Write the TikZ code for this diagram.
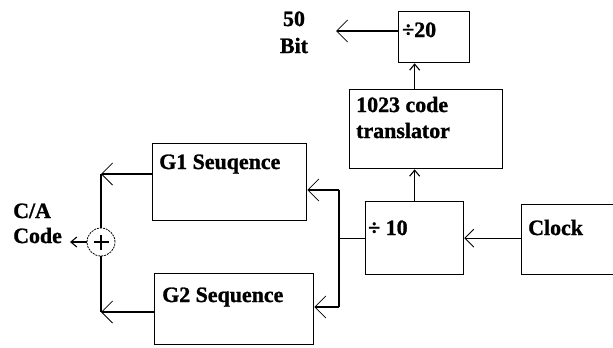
\documentclass[tikz,border=0pt]{standalone}
\usepackage{fontspec}
\setmainfont{Liberation Serif}[BoldFont={Liberation Serif Bold}, BoldFeatures={FakeBold=1.2}]
\usetikzlibrary{arrows.meta}
\begin{document}
\begin{tikzpicture}[x=1bp,y=-1bp,
  box/.style={draw, line width=1.3bp, rectangle, inner sep=0pt, anchor=north west},
  lbl/.style={inner sep=0pt, anchor=base west, font=\fontsize{22}{26}\selectfont\bfseries},
  clbl/.style={lbl, anchor=base},
  conn/.style={line width=1.1bp},
  bigtip/.style={conn, -{Straight Barb[length=11bp,width=22bp,line width=0.8bp]}},
  midtip/.style={conn, -{Straight Barb[length=9bp,width=18bp,line width=0.8bp]}},
  smalltip/.style={conn, -{Straight Barb[length=6bp,width=10bp,line width=1.1bp]}},
]
\useasboundingbox (0,0) rectangle (613,347);
% boxes
\node[box, minimum width=154bp, minimum height=77bp] (g1) at (152,143) {};
\node[box, minimum width=159bp, minimum height=71bp] (g2) at (154,273) {};
\node[box, minimum width=98bp, minimum height=73bp] (div10) at (365,201) {};
\node[box, minimum width=92bp, minimum height=70bp] (clock) at (521,204) {};
\node[box, minimum width=153bp, minimum height=79bp] (trans) at (349,89) {};
\node[box, minimum width=71bp, minimum height=51bp] (div20) at (398,11) {};
\node[circle, draw, line width=0.8bp, dash pattern=on 2bp off 1bp, minimum size=28bp, inner sep=0pt] (sum) at (101,242) {};
% texts
\node[lbl] (tg1) at (159,169) {G1 Seuqence};
\node[lbl] (tg2) at (162,302) {G2 Sequence};
\node[lbl] (t10) at (368,235) {÷ 10};
\node[lbl] (tclk) at (528,235) {Clock};
\node[lbl] (ttr1) at (356,112) {1023 code};
\node[lbl] (ttr2) at (356,138) {translator};
\node[lbl] (t20) at (402,37) {÷20};
\node[clbl] (t50) at (294,26) {50};
\node[clbl] (tbit) at (294,53) {Bit};
\node[lbl] (tca) at (13,218) {C/A};
\node[lbl] (tcode) at (13,243) {Code};
% plus sign
\draw[line width=2.8bp] ([xshift=-7.5bp]sum.center) -- ([xshift=7.5bp]sum.center);
\draw[line width=2.8bp] ([yshift=-7.5bp]sum.center) -- ([yshift=7.5bp]sum.center);
% coordinates
\coordinate (bus) at (339,0);
\coordinate (b1) at (339,190);
\coordinate (b2) at (339,307);
\coordinate (c1) at (101,174);
\coordinate (c2) at (101,312);
\coordinate (ca) at (70,242);
\coordinate (bitend) at (336,31);
% connectors
\draw[midtip] (clock.west |- div10.east) -- (div10.east);
\draw[conn] (div10.west) -- (div10.west -| bus);
\draw[conn] (b1) -- (b2);
\draw[bigtip] (b1) -- (g1.east |- b1);
\draw[bigtip] (b2) -- (g2.east |- b2);
\draw[bigtip] (g1.west |- c1) -- (c1);
\draw[conn] (c1) -- (sum.north);
\draw[bigtip] (g2.west |- c2) -- (c2);
\draw[conn] (c2) -- (sum.south);
\draw[smalltip] (sum.west) -- (ca);
\draw[smalltip] (div10.north) -- (div10.north |- trans.south);
\draw[smalltip] (div10.north |- trans.north) -- (div10.north |- div20.south);
\draw[bigtip] (div20.west |- bitend) -- (bitend);
\end{tikzpicture}
\end{document}
